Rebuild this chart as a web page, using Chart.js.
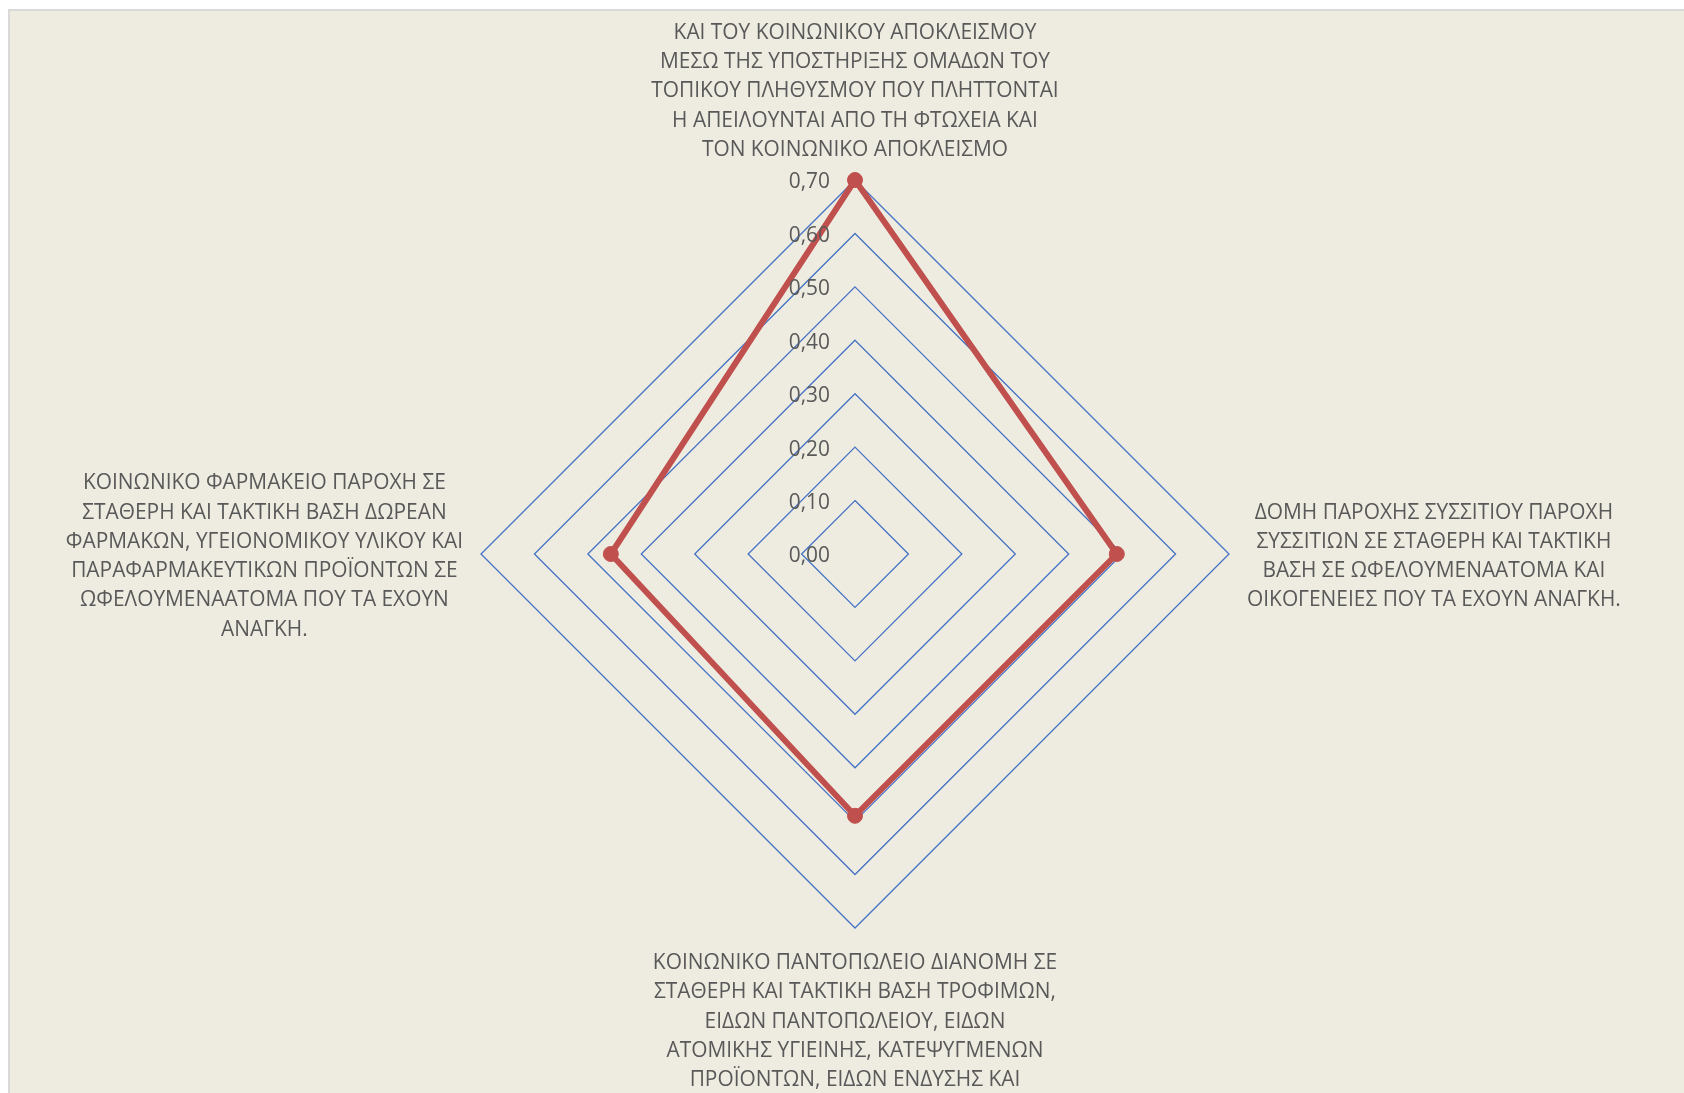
<!DOCTYPE html>
<html>
<head>
<meta charset="utf-8">
<script src="https://cdn.jsdelivr.net/npm/chart.js@4.4.1/dist/chart.umd.min.js"></script>
<style>
  html, body { margin: 0; padding: 0; background: #fff; overflow: hidden; }
  #frame {
    position: absolute; left: 8px; top: 9px; width: 1676px; height: 1084px;
    box-sizing: border-box; border-top: 2px solid #d9d9d9; border-left: 2px solid #d9d9d9;
    background: #eeece1; overflow: hidden;
  }
  #box { position: relative; width: 1674px; height: 1082px; }
</style>
</head>
<body>
<div id="frame"><div id="box"><canvas id="radar"></canvas></div></div>
<script>
// categories, one array of lines per axis (top, right, bottom, left)
const categories = [
  ['ΚΑΙ ΤΟΥ ΚΟΙΝΩΝΙΚΟΥ ΑΠΟΚΛΕΙΣΜΟΥ',
   'ΜΕΣΩ ΤΗΣ ΥΠΟΣΤΗΡΙΞΗΣ ΟΜΑΔΩΝ ΤΟΥ',
   'ΤΟΠΙΚΟΥ ΠΛΗΘΥΣΜΟΥ ΠΟΥ ΠΛΗΤΤΟΝΤΑΙ',
   'Η ΑΠΕΙΛΟΥΝΤΑΙ ΑΠΟ ΤΗ ΦΤΩΧΕΙΑ ΚΑΙ',
   'ΤΟΝ ΚΟΙΝΩΝΙΚΟ ΑΠΟΚΛΕΙΣΜΟ'],
  ['ΔΟΜΗ ΠΑΡΟΧΗΣ ΣΥΣΣΙΤΙΟΥ ΠΑΡΟΧΗ',
   'ΣΥΣΣΙΤΙΩΝ ΣΕ ΣΤΑΘΕΡΗ ΚΑΙ ΤΑΚΤΙΚΗ',
   'ΒΑΣΗ ΣΕ ΩΦΕΛΟΥΜΕΝΑΑΤΟΜΑ ΚΑΙ',
   'ΟΙΚΟΓΕΝΕΙΕΣ ΠΟΥ ΤΑ ΕΧΟΥΝ ΑΝΑΓΚΗ.'],
  ['ΚΟΙΝΩΝΙΚΟ ΠΑΝΤΟΠΩΛΕΙΟ ΔΙΑΝΟΜΗ ΣΕ',
   'ΣΤΑΘΕΡΗ ΚΑΙ ΤΑΚΤΙΚΗ ΒΑΣΗ ΤΡΟΦΙΜΩΝ,',
   'ΕΙΔΩΝ ΠΑΝΤΟΠΩΛΕΙΟΥ, ΕΙΔΩΝ',
   'ΑΤΟΜΙΚΗΣ ΥΓΙΕΙΝΗΣ, ΚΑΤΕΨΥΓΜΕΝΩΝ',
   'ΠΡΟΪΟΝΤΩΝ, ΕΙΔΩΝ ΕΝΔΥΣΗΣ ΚΑΙ'],
  ['ΚΟΙΝΩΝΙΚΟ ΦΑΡΜΑΚΕΙΟ ΠΑΡΟΧΗ ΣΕ',
   'ΣΤΑΘΕΡΗ ΚΑΙ ΤΑΚΤΙΚΗ ΒΑΣΗ ΔΩΡΕΑΝ',
   'ΦΑΡΜΑΚΩΝ, ΥΓΕΙΟΝΟΜΙΚΟΥ ΥΛΙΚΟΥ ΚΑΙ',
   'ΠΑΡΑΦΑΡΜΑΚΕΥΤΙΚΩΝ ΠΡΟΪΟΝΤΩΝ ΣΕ',
   'ΩΦΕΛΟΥΜΕΝΑΑΤΟΜΑ ΠΟΥ ΤΑ ΕΧΟΥΝ',
   'ΑΝΑΓΚΗ.']
];
const values = [0.70, 0.49, 0.49, 0.457];
const tickLabels = ['0,00', '0,10', '0,20', '0,30', '0,40', '0,50', '0,60', '0,70'];

const textColor = '#595959';
const labelFont = '20.9px "Open Sans"';
const lineHeight = 29.3;
const labelGap = 18;
const textNudge = 2.5; // glyph centre sits a little lower in Excel

// Excel style labels: centred text boxes beside each axis end, ticks left of the axis
const excelLabels = {
  id: 'excelLabels',
  afterDatasetsDraw(chart) {
    const scale = chart.scales.r;
    const ctx = chart.ctx;
    ctx.save();
    ctx.font = labelFont;
    ctx.fillStyle = textColor;
    ctx.textBaseline = 'middle';

    ctx.textAlign = 'right';
    scale.ticks.forEach((t) => {
      const d = scale.getDistanceFromCenterForValue(t.value);
      ctx.fillText(t.label, scale.xCenter - 25, scale.yCenter - d + textNudge);
    });

    ctx.textAlign = 'center';
    chart.data.labels.forEach((lines, i) => {
      const p = scale.getPointPosition(i, scale.drawingArea + labelGap);
      const a = scale.getIndexAngle(i);
      const w = Math.max(...lines.map((l) => ctx.measureText(l).width));
      const h = lines.length * lineHeight;
      const cx = p.x + Math.sin(a) * w / 2;
      const top = p.y - Math.cos(a) * h / 2 - h / 2;
      lines.forEach((l, k) => {
        ctx.fillText(l, cx, top + (k + 0.5) * lineHeight + textNudge);
      });
    });
    ctx.restore();
  }
};

new Chart(document.getElementById('radar'), {
  type: 'radar',
  plugins: [excelLabels],
  data: {
    labels: categories,
    datasets: [{
      data: values,
      borderColor: '#c0504d',
      backgroundColor: 'rgba(0,0,0,0)',
      borderWidth: 6,
      fill: false,
      pointRadius: 7.5,
      pointBorderWidth: 1,
      pointBackgroundColor: '#c0504d',
      pointBorderColor: '#c0504d'
    }]
  },
  options: {
    responsive: true,
    maintainAspectRatio: false,
    animation: false,
    layout: { padding: { left: 471, right: 455, top: 169, bottom: 165 } },
    plugins: {
      legend: { display: false },
      tooltip: { enabled: false }
    },
    scales: {
      r: {
        min: 0,
        max: 0.7,
        ticks: {
          stepSize: 0.1,
          display: false,
          callback: (v, i) => tickLabels[i]
        },
        grid: { color: '#4472c4', lineWidth: 1.3, circular: false },
        angleLines: { display: false },
        pointLabels: { display: false }
      }
    }
  }
});
</script>
</body>
</html>
